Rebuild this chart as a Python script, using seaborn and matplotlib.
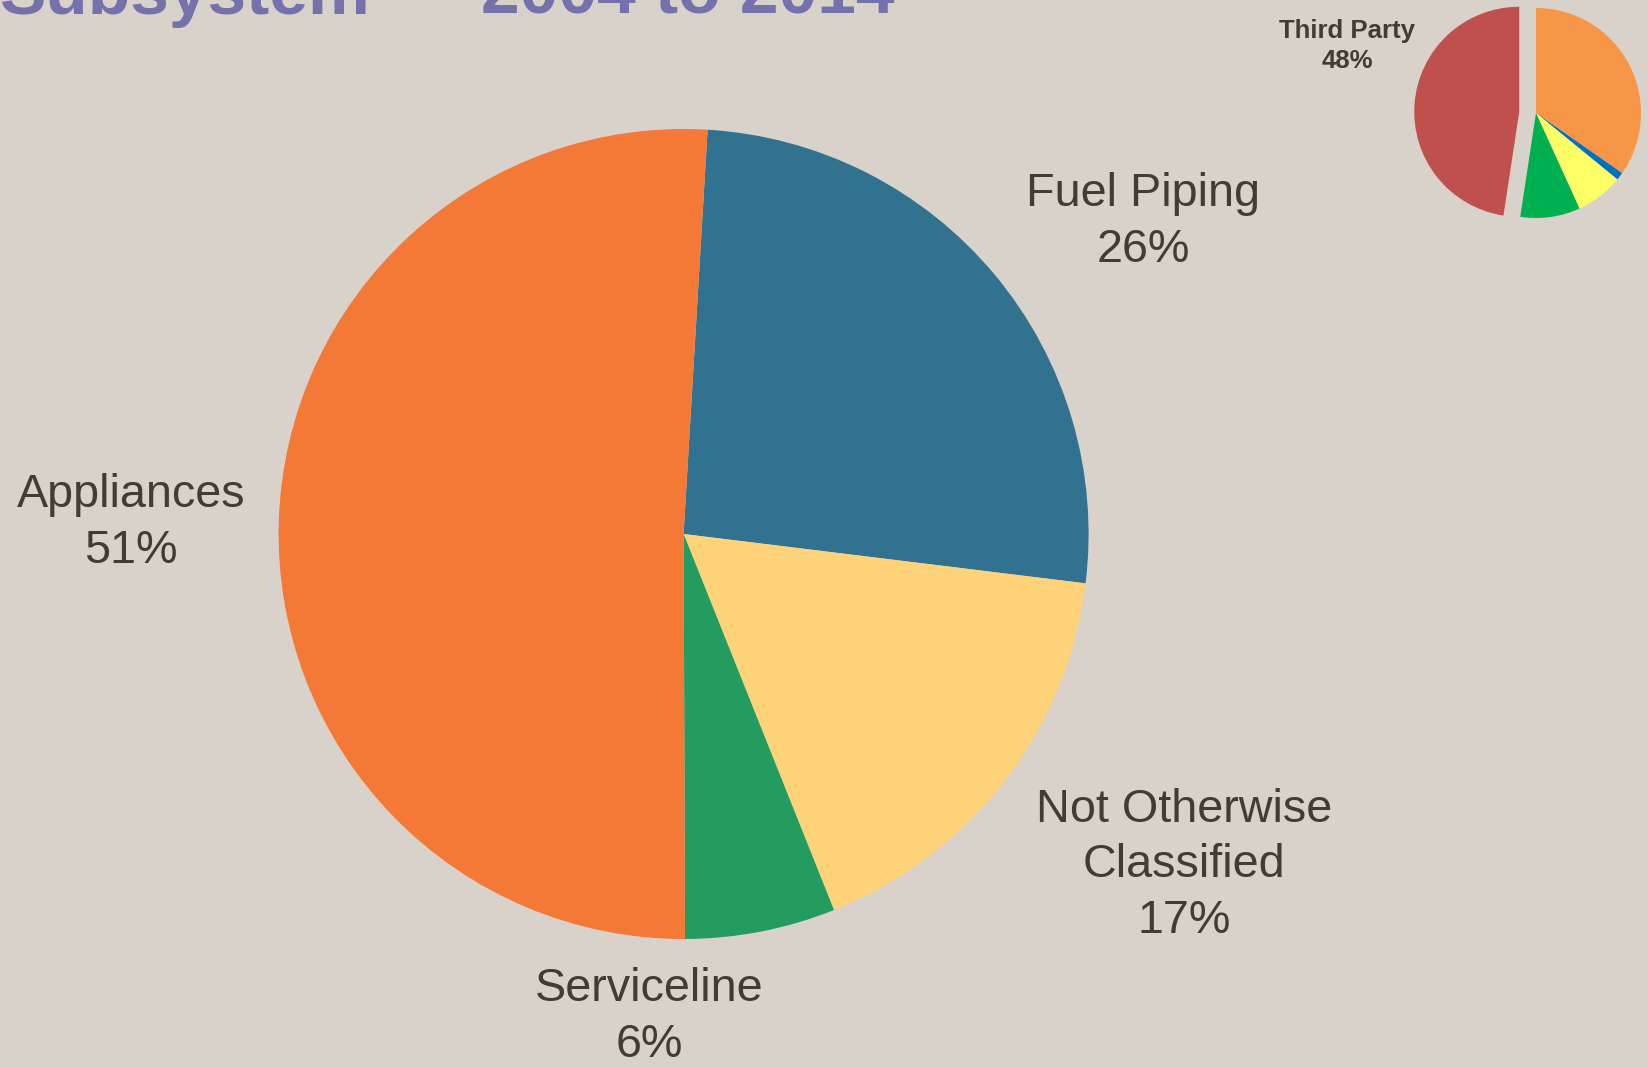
import matplotlib
matplotlib.use("Agg")
import matplotlib.pyplot as plt
import seaborn as sns

# main pie: failure subsystem shares (clockwise from the top)
categories = ["Fuel Piping", "Not Otherwise\nClassified", "Serviceline", "Appliances"]
shares = [26, 17, 6, 51]
main_colors = ["#317291", "#FFD37A", "#249C5F", "#F47937"]

# small inset pie (clockwise from the top); only the third party slice is labelled
inset_values = [34.7, 1.2, 7.3, 9.2, 47.6]
inset_colors = ["#F79646", "#0070C0", "#FFFF66", "#00B050", "#C0504D"]
inset_label = "Third Party"

title_left = "Subsystem"
title_right = "2004 to 2014"

BG = "#D9D2CB"
TXT = "#433B36"
W, H = 1649, 1068

sns.set_style("white", {"axes.facecolor": BG, "figure.facecolor": BG})
plt.rcParams["font.family"] = ["Liberation Sans", "DejaVu Sans"]

fig = plt.figure(figsize=(W / 100, H / 100), dpi=100)


def px_axes(cx, cy, r):
    return fig.add_axes([(cx - r) / W, (H - cy - r) / H, 2 * r / W, 2 * r / H])


# main pie
ax = px_axes(683.6, 534, 405)
ax.pie(shares, colors=main_colors, startangle=86.6, counterclock=False,
       wedgeprops=dict(linewidth=0), radius=1)
ax.set_xlim(-1, 1)
ax.set_ylim(-1, 1)
ax.set_aspect("equal")
ax.axis("off")

# label positions (pixel coordinates of the last line baseline)
label_pos = [(1143, 262), (1184, 933), (649, 1057), (131, 563)]
for name, val, (x, y) in zip(categories, shares, label_pos):
    fig.text(x / W, 1 - y / H, f"{name}\n{val}%", ha="center", va="baseline",
             fontsize=33.7, color=TXT, linespacing=1.34, multialignment="center")

# inset pie
r_in = 105
pad = 1.3
ax2 = px_axes(1536, 113, r_in * pad)
explode = [0, 0, 0, 0, 0.16]
ax2.pie(inset_values, colors=inset_colors, startangle=90, counterclock=False,
        explode=explode, wedgeprops=dict(linewidth=0), radius=1)
ax2.set_xlim(-pad, pad)
ax2.set_ylim(-pad, pad)
ax2.set_aspect("equal")
ax2.axis("off")

pct = round(inset_values[-1])
fig.text(1347 / W, 1 - 68 / H, f"{inset_label}\n{pct}%", ha="center", va="baseline",
         fontsize=18.5, fontweight="bold", color=TXT, linespacing=1.34)

# title (top part is cut off in the original)
fig.text(0 / W, 1 - 14 / H, title_left, ha="left", va="baseline",
         fontsize=50, fontweight="bold", color="#7571AA")
fig.text(481 / W, 1 - 14 / H, title_right, ha="left", va="baseline",
         fontsize=50, fontweight="bold", color="#7571AA")

fig.savefig("out.png", dpi=100, facecolor=BG)
